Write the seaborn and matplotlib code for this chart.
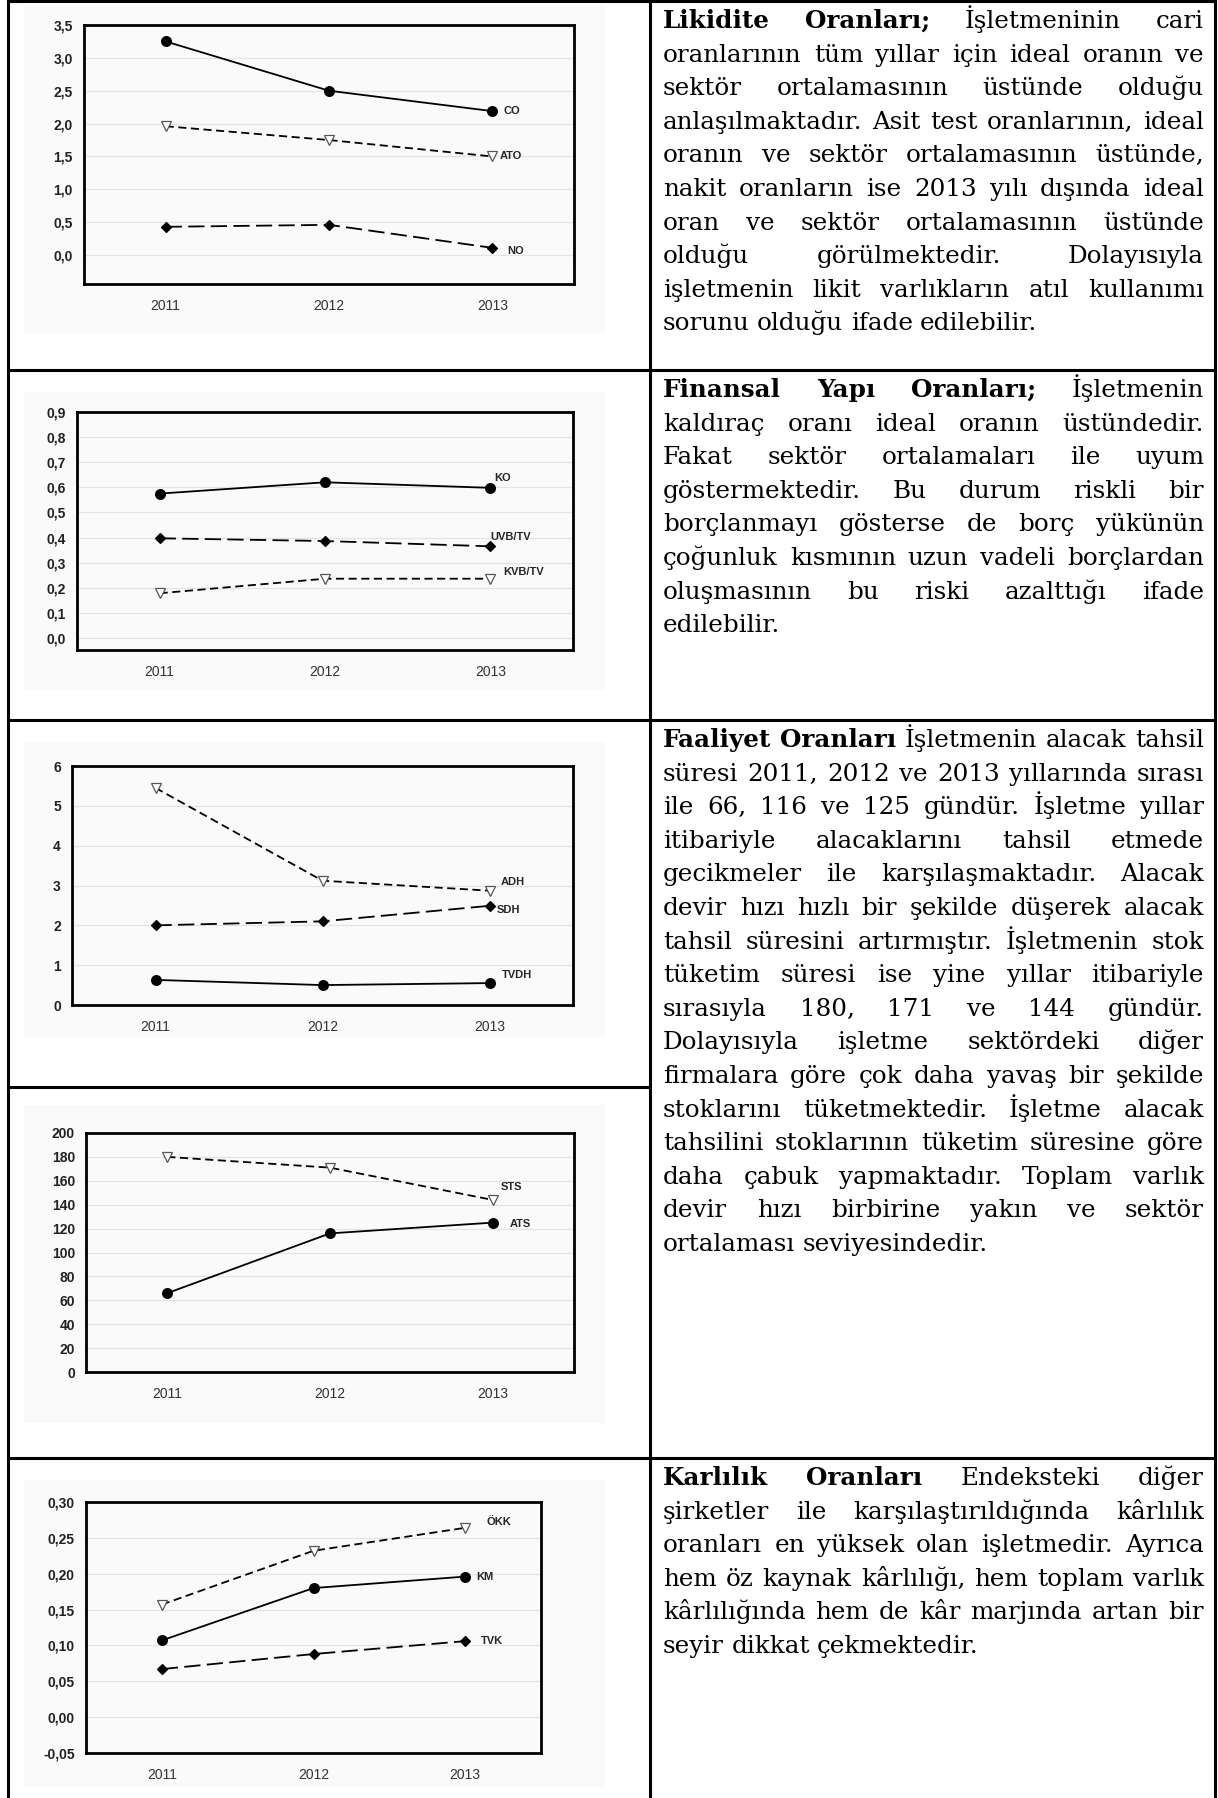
import matplotlib
matplotlib.use("Agg")
import matplotlib.pyplot as plt
import seaborn as sns
from matplotlib.patches import Rectangle
from matplotlib.lines import Line2D

sns.set_style("white")

W, H = 1218, 1798
years = [2011, 2012, 2013]

# Likidite oranlari
co = [3.25, 2.50, 2.19]
ato = [1.96, 1.75, 1.50]
no_ = [0.43, 0.46, 0.11]
liq_ticks = [0.0, 0.5, 1.0, 1.5, 2.0, 2.5, 3.0, 3.5]
liq_labels = ["0,0", "0,5", "1,0", "1,5", "2,0", "2,5", "3,0", "3,5"]

# Finansal yapi oranlari
ko = [0.575, 0.620, 0.598]
uvb_tv = [0.397, 0.386, 0.365]
kvb_tv = [0.178, 0.236, 0.236]
fin_ticks = [0.0, 0.1, 0.2, 0.3, 0.4, 0.5, 0.6, 0.7, 0.8, 0.9]
fin_labels = ["0,0", "0,1", "0,2", "0,3", "0,4", "0,5", "0,6", "0,7", "0,8", "0,9"]

# Faaliyet oranlari (devir hizlari)
adh = [5.45, 3.12, 2.87]
sdh = [2.00, 2.10, 2.49]
tvdh = [0.63, 0.50, 0.55]
dh_ticks = [0, 1, 2, 3, 4, 5, 6]
dh_labels = ["0", "1", "2", "3", "4", "5", "6"]

# Faaliyet oranlari (sureler, gun)
sts = [180, 171, 144]
ats = [66, 116, 125]
gun_ticks = [0, 20, 40, 60, 80, 100, 120, 140, 160, 180, 200]
gun_labels = ["0", "20", "40", "60", "80", "100", "120", "140", "160", "180", "200"]

# Karlilik oranlari
okk = [0.157, 0.232, 0.264]
km = [0.107, 0.180, 0.196]
tvk = [0.067, 0.088, 0.106]
kar_ticks = [-0.05, 0.0, 0.05, 0.10, 0.15, 0.20, 0.25, 0.30]
kar_labels = ["-0,05", "0,00", "0,05", "0,10", "0,15", "0,20", "0,25", "0,30"]

# line styles: solid/circle, short dash/open triangle, long dash/diamond
styles = {
    "solid": dict(linestyle="-", marker="o", markersize=7,
                  markerfacecolor="black", markeredgecolor="black"),
    "short": dict(linestyle=(0, (4.5, 2.5)), marker="v", markersize=6.5,
                  markerfacecolor="white", markeredgecolor="#555555"),
    "long": dict(linestyle=(0, (9, 3.5)), marker="D", markersize=5.5,
                 markerfacecolor="black", markeredgecolor="black"),
}

fig = plt.figure(figsize=(W / 100, H / 100), dpi=100)
fig.patch.set_facecolor("white")


def fbox(x0, y0, x1, y1):
    return [x0 / W, 1 - y1 / H, (x1 - x0) / W, (y1 - y0) / H]


def panel(bg, box, xlim, ylim, ticks, labels, series):
    fig.add_artist(Rectangle((bg[0] / W, 1 - bg[3] / H), (bg[2] - bg[0]) / W,
                             (bg[3] - bg[1]) / H, transform=fig.transFigure,
                             facecolor="#fafafa", edgecolor="none", zorder=0))
    ax = fig.add_axes(fbox(*box))
    ax.set_facecolor("none")
    for name, vals, st, off in series:
        sns.lineplot(x=years, y=vals, ax=ax, color="black", linewidth=1.3,
                     markeredgewidth=0.9, legend=False, **styles[st])
        ax.annotate(name, (years[-1], vals[-1]), xytext=off, textcoords="offset points",
                    ha="left", va="center", fontsize=8, fontweight="bold",
                    family="Liberation Sans")
    ax.set_xlim(*xlim)
    ax.set_ylim(*ylim)
    ax.set_xticks(years)
    ax.set_xticklabels([str(y) for y in years], fontsize=10, color="#333333",
                       family="Liberation Sans")
    ax.set_yticks(ticks)
    ax.set_yticklabels(labels, fontsize=10, fontweight="bold", color="#222222",
                       family="Liberation Sans")
    ax.set_xlabel("")
    ax.set_ylabel("")
    ax.grid(axis="y", color="#e4e4e4", linewidth=0.9)
    ax.set_axisbelow(True)
    for s in ax.spines.values():
        s.set_visible(True)
        s.set_linewidth(2.0)
        s.set_color("black")
    ax.tick_params(axis="both", direction="out", length=4, width=0.8,
                   color="#555555", pad=4)
    ax.tick_params(axis="x", pad=7)
    return ax


panel((24, 5, 605, 333), (84, 25, 574, 284), (2010.5, 2013.5), (-0.44, 3.5),
      liq_ticks, liq_labels,
      [("CO", co, "solid", (8, 0)), ("ATO", ato, "short", (5, 0)),
       ("NO", no_, "long", (11, -2))])

panel((24, 392, 605, 690), (77, 412, 573, 650), (2010.5, 2013.5), (-0.048, 0.9),
      fin_ticks, fin_labels,
      [("KO", ko, "solid", (3, 7)), ("UVB/TV", uvb_tv, "long", (0, 7)),
       ("KVB/TV", kvb_tv, "short", (9, 5))])

panel((24, 742, 605, 1037), (72, 766, 573, 1005), (2010.5, 2013.5), (0, 6),
      dh_ticks, dh_labels,
      [("ADH", adh, "short", (8, 6)), ("SDH", sdh, "long", (5, -3)),
       ("TVDH", tvdh, "solid", (9, 6))])

panel((24, 1105, 605, 1423), (86, 1133, 574, 1372), (2010.5, 2013.5), (0, 200),
      gun_ticks, gun_labels,
      [("STS", sts, "short", (6, 9)), ("ATS", ats, "solid", (12, -1))])

panel((24, 1480, 605, 1787), (86, 1502, 541, 1753), (2010.5, 2013.5), (-0.05, 0.30),
      kar_ticks, kar_labels,
      [("ÖKK", okk, "short", (15, 4)), ("KM", km, "solid", (8, 0)),
       ("TVK", tvk, "long", (11, 0))])

# table lines
lw_tab = 2.2


def hline(y, x0, x1):
    fig.add_artist(Line2D([x0 / W, x1 / W], [1 - y / H, 1 - y / H],
                          transform=fig.transFigure, color="black", lw=lw_tab))


def vline(x, y0, y1):
    fig.add_artist(Line2D([x / W, x / W], [1 - y0 / H, 1 - y1 / H],
                          transform=fig.transFigure, color="black", lw=lw_tab))


hline(1, 8, 1215)
hline(370, 8, 1215)
hline(720, 8, 1215)
hline(1087, 8, 650)
hline(1458, 8, 1215)
vline(8, 0, H)
vline(650, 0, H)
vline(1215, 0, H)

# right column text, justified line by line
B = "**"
para1 = [
    B + "Likidite " + B + "Oranları; İşletmeninin cari",
    "oranlarının tüm yıllar için ideal oranın ve",
    "sektör ortalamasının üstünde olduğu",
    "anlaşılmaktadır. Asit test oranlarının, ideal",
    "oranın ve sektör ortalamasının üstünde,",
    "nakit oranların ise 2013 yılı dışında ideal",
    "oran ve sektör ortalamasının üstünde",
    "olduğu görülmektedir. Dolayısıyla",
    "işletmenin likit varlıkların atıl kullanımı",
    "sorunu olduğu ifade edilebilir.",
]
para2 = [
    B + "Finansal " + B + "Yapı " + B + "Oranları; İşletmenin",
    "kaldıraç oranı ideal oranın üstündedir.",
    "Fakat sektör ortalamaları ile uyum",
    "göstermektedir. Bu durum riskli bir",
    "borçlanmayı gösterse de borç yükünün",
    "çoğunluk kısmının uzun vadeli borçlardan",
    "oluşmasının bu riski azalttığı ifade",
    "edilebilir.",
]
para3 = [
    B + "Faaliyet " + B + "Oranları İşletmenin alacak tahsil",
    "süresi 2011, 2012 ve 2013 yıllarında sırası",
    "ile 66, 116 ve 125 gündür. İşletme yıllar",
    "itibariyle alacaklarını tahsil etmede",
    "gecikmeler ile karşılaşmaktadır. Alacak",
    "devir hızı hızlı bir şekilde düşerek alacak",
    "tahsil süresini artırmıştır. İşletmenin stok",
    "tüketim süresi ise yine yıllar itibariyle",
    "sırasıyla 180, 171 ve 144 gündür.",
    "Dolayısıyla işletme sektördeki diğer",
    "firmalara göre çok daha yavaş bir şekilde",
    "stoklarını tüketmektedir. İşletme alacak",
    "tahsilini stoklarının tüketim süresine göre",
    "daha çabuk yapmaktadır. Toplam varlık",
    "devir hızı birbirine yakın ve sektör",
    "ortalaması seviyesindedir.",
]
para4 = [
    B + "Karlılık " + B + "Oranları Endeksteki diğer",
    "şirketler ile karşılaştırıldığında kârlılık",
    "oranları en yüksek olan işletmedir. Ayrıca",
    "hem öz kaynak kârlılığı, hem toplam varlık",
    "kârlılığında hem de kâr marjında artan bir",
    "seyir dikkat çekmektedir.",
]

serif = "DejaVu Serif"
renderer = fig.canvas.get_renderer()


def words_of(line):
    out = []
    for w in line.split(" "):
        if w.startswith(B):
            out.append((w[2:], "bold"))
        else:
            out.append((w, "normal"))
    return out


def width(word, weight, fs):
    t = fig.text(0, 0, word, fontsize=fs, family=serif, fontweight=weight)
    w = t.get_window_extent(renderer).width
    t.remove()
    return w


x_left, x_right = 663, 1204
line_h = 33.6
base_fs = 10.0
space_ratio = 0.30
all_paras = [para1, para2, para3, para4]

# pick font size so that the longest justified line fits the column
maxnat = 0
for p in all_paras:
    for line in p[:-1]:
        ws = words_of(line)
        nat = sum(width(w, wt, base_fs) for w, wt in ws) + (len(ws) - 1) * base_fs * 100 / 72 * space_ratio
        maxnat = max(maxnat, nat)
fs = base_fs * (x_right - x_left) / maxnat * 0.995
space_px = fs * 100 / 72 * space_ratio

for p, top in zip(all_paras, [1, 370, 720, 1458]):
    for i, line in enumerate(p):
        ws = words_of(line)
        widths = [width(w, wt, fs) for w, wt in ws]
        if i < len(p) - 1 and len(ws) > 1:
            gap = (x_right - x_left - sum(widths)) / (len(ws) - 1)
        else:
            gap = space_px
        y = top + 27 + i * line_h
        x = x_left
        for (w, wt), wd in zip(ws, widths):
            fig.text(x / W, 1 - y / H, w, fontsize=fs, family=serif,
                     fontweight=wt, va="baseline", ha="left", color="black")
            x += wd + gap

fig.savefig("out.png", dpi=100, facecolor="white")
